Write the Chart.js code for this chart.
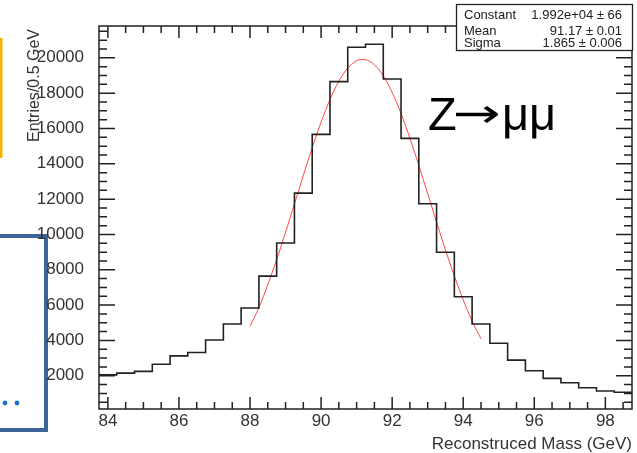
<!DOCTYPE html>
<html>
<head>
<meta charset="utf-8">
<script src="https://cdn.jsdelivr.net/npm/chart.js@4/dist/chart.umd.min.js"></script>
<style>
  html, body { margin: 0; padding: 0; background: #fff; }
  #chart { display: block; }
</style>
</head>
<body>
<canvas id="chart" width="637" height="453"></canvas>
<script>
'use strict';

// histogram: lower bin edges (GeV) and entries per 0.5 GeV
var binLow = [83.75, 84.25, 84.75, 85.25, 85.75, 86.25, 86.75, 87.25, 87.75, 88.25,
  88.75, 89.25, 89.75, 90.25, 90.75, 91.25, 91.75, 92.25, 92.75, 93.25,
  93.75, 94.25, 94.75, 95.25, 95.75, 96.25, 96.75, 97.25, 97.75, 98.25];
var entries = [2050, 2150, 2250, 2650, 3130, 3320, 4030, 4930, 5835, 7640,
  9520, 12340, 15665, 18650, 20600, 20770, 18800, 15440, 11740, 8990,
  6475, 4930, 3845, 2885, 2285, 1855, 1610, 1325, 1140, 1065];
var binWidth = 0.5;

// gaussian fit curve
var fitMass = [88.0, 88.25, 88.5, 88.75, 89.0, 89.25, 89.5, 89.75, 90.0, 90.25,
  90.5, 90.75, 91.0, 91.25, 91.5, 91.75, 92.0, 92.25, 92.5, 92.75,
  93.0, 93.25, 93.5, 93.75, 94.0, 94.25, 94.5];
var fitValues = [4800, 5850, 7150, 8580, 10120, 11730, 13340, 14910, 16360, 17640,
  18680, 19420, 19840, 19900, 19610, 18980, 18040, 16850, 15450, 13910,
  12310, 10700, 9130, 7650, 6300, 5090, 4100];

var xTicks = [84, 86, 88, 90, 92, 94, 96, 98];
var yTicks = [2000, 4000, 6000, 8000, 10000, 12000, 14000, 16000, 18000, 20000];
var statNames = ['Constant', 'Mean', 'Sigma'];
var statValues = ['1.992e+04 \u00b1 66', '91.17 \u00b1 0.01', '1.865 \u00b1 0.006'];

var xTitle = 'Reconstruced Mass (GeV)';
var yTitle = 'Entries/0.5 GeV';

var histPoints = [];
for (var i = 0; i < binLow.length; i++) {
  histPoints.push({x: binLow[i], y: entries[i]});
}
histPoints.push({x: binLow[binLow.length - 1] + binWidth, y: entries[entries.length - 1]});

var fitPoints = [];
for (var j = 0; j < fitMass.length; j++) {
  fitPoints.push({x: fitMass[j], y: fitValues[j]});
}

var FONT = '"Liberation Sans", Arial, sans-serif';

// slide decorations behind the plot
var slideBits = {
  id: 'slideBits',
  beforeDraw: function(chart) {
    var c = chart.ctx;
    c.save();
    c.fillStyle = '#f4b400';
    c.fillRect(0, 38, 2.5, 120);
    c.strokeStyle = '#3d6597';
    c.lineWidth = 4;
    c.strokeRect(-10, 236, 56, 194);
    c.fillStyle = '#1a73c8';
    c.beginPath();
    c.arc(5, 403, 2.4, 0, Math.PI * 2);
    c.arc(17, 403, 2.4, 0, Math.PI * 2);
    c.fill();
    c.restore();
  }
};

// ROOT style frame, inward ticks, titles and stats box
var rootFrame = {
  id: 'rootFrame',
  afterDraw: function(chart) {
    var c = chart.ctx;
    var a = chart.chartArea;
    var xs = chart.scales.x;
    var ys = chart.scales.y;
    c.save();
    c.strokeStyle = '#222';
    c.lineWidth = 1.5;
    c.strokeRect(a.left, a.top, a.right - a.left, a.bottom - a.top);

    c.beginPath();
    for (var v = 84; v <= 98.5; v += 0.5) {
      var px = xs.getPixelForValue(v);
      var len = (v % 2 === 0) ? 12 : 7;
      c.moveTo(px, a.bottom); c.lineTo(px, a.bottom - len);
      c.moveTo(px, a.top); c.lineTo(px, a.top + len);
    }
    for (var w = 500; w <= 21500; w += 500) {
      var py = ys.getPixelForValue(w);
      var l2 = (w % 2000 === 0) ? 16 : 8;
      c.moveTo(a.left, py); c.lineTo(a.left + l2, py);
      c.moveTo(a.right, py); c.lineTo(a.right - l2, py);
    }
    c.stroke();

    c.fillStyle = '#333';
    c.font = '17px ' + FONT;
    c.textAlign = 'right';
    c.textBaseline = 'alphabetic';
    c.fillText(xTitle, 632, 449);

    c.save();
    c.font = '16px ' + FONT;
    c.translate(39, 29);
    c.rotate(-Math.PI / 2);
    c.fillText(yTitle, 0, 0);
    c.restore();

    // stats box
    c.fillStyle = '#fff';
    c.fillRect(456.5, 4.5, 176, 46);
    c.lineWidth = 1.3;
    c.strokeStyle = '#222';
    c.strokeRect(456.5, 4.5, 176, 46);
    c.fillStyle = '#222';
    c.font = '13px ' + FONT;
    var rows = [19, 35, 47];
    for (var k = 0; k < statNames.length; k++) {
      c.textAlign = 'left';
      c.fillText(statNames[k], 464, rows[k]);
      c.textAlign = 'right';
      c.fillText(statValues[k], 622, rows[k]);
    }

    // Z -> mu mu label, the arrow stretched to the slide's long arrow
    c.fillStyle = '#000';
    c.textAlign = 'left';
    c.font = '47px ' + FONT;
    c.fillText('Z', 428, 130);
    c.save();
    c.font = '40px "DejaVu Sans", sans-serif';
    var aw = c.measureText('\u2192').width;
    c.translate(453, 127);
    c.scale(48 / aw, 1);
    c.fillText('\u2192', 0, 0);
    c.restore();
    c.font = '47px ' + FONT;
    c.fillText('\u03bc\u03bc', 502, 130);
    c.restore();
  }
};

var ctx = document.getElementById('chart').getContext('2d');

var chart = new Chart(ctx, {
  type: 'line',
  data: {
    datasets: [
      {
        label: 'data',
        data: histPoints,
        stepped: 'before',
        borderColor: '#222',
        borderWidth: 1.6,
        pointRadius: 0,
        fill: false
      },
      {
        label: 'fit',
        data: fitPoints,
        borderColor: 'rgba(255, 40, 40, 0.85)',
        borderWidth: 1,
        pointRadius: 0,
        tension: 0.3,
        fill: false
      }
    ]
  },
  options: {
    responsive: false,
    animation: false,
    devicePixelRatio: 1,
    layout: { padding: { top: 26, right: 5, left: 0, bottom: 0 } },
    plugins: {
      legend: { display: false },
      tooltip: { enabled: false }
    },
    scales: {
      x: {
        type: 'linear',
        min: 83.75,
        max: 98.75,
        grid: { display: false },
        border: { display: false },
        afterBuildTicks: function(s) {
          s.ticks = xTicks.map(function(v) { return {value: v}; });
        },
        afterFit: function(s) { s.height = 44; },
        ticks: {
          autoSkip: false,
          maxRotation: 0,
          padding: -6,
          color: '#333',
          font: { family: FONT, size: 17 },
          callback: function(v) { return String(v); }
        }
      },
      y: {
        type: 'linear',
        min: 120,
        max: 21800,
        grid: { display: false },
        border: { display: false },
        afterBuildTicks: function(s) {
          s.ticks = yTicks.map(function(v) { return {value: v}; });
        },
        afterFit: function(s) { s.width = 99; },
        ticks: {
          padding: 7,
          color: '#333',
          font: { family: FONT, size: 17 },
          callback: function(v) { return String(v); }
        }
      }
    }
  },
  plugins: [slideBits, rootFrame]
});
</script>
</body>
</html>
